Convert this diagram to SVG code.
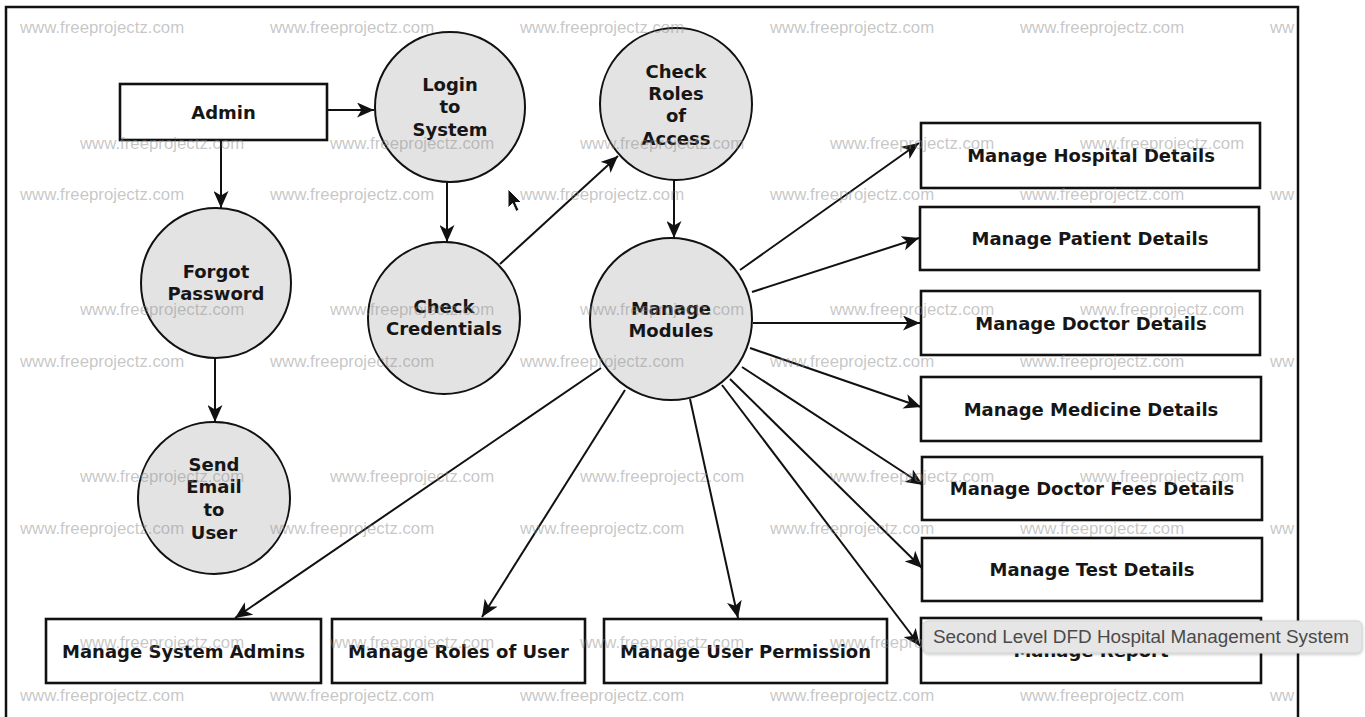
<svg xmlns="http://www.w3.org/2000/svg" width="1365" height="717" viewBox="0 0 1365 717">
  <style>
    .frame { fill: none; stroke: #111; stroke-width: 2.5; }
    .proc { fill: #e3e3e3; stroke: #111; stroke-width: 2; }
    .ent { fill: #fff; stroke: #111; stroke-width: 2.6; }
    .lbl { font-family: "DejaVu Sans", Verdana, sans-serif; font-weight: bold; font-size: 18px; fill: #161616; text-anchor: middle; }
    .flow { fill: none; stroke: #111; stroke-width: 2; marker-end: url(#head); }
    .wm { font-family: "Liberation Sans", Arial, sans-serif; font-size: 16.8px; fill: #888; fill-opacity: 0.48; }
    .tip { font-family: "Liberation Sans", Arial, sans-serif; font-size: 17.5px; fill: #4a4a4a; }
  </style>
  <defs>
    <marker id="head" viewBox="0 0 17 15" refX="17" refY="7.5" markerWidth="17" markerHeight="15" markerUnits="userSpaceOnUse" orient="auto">
      <path d="M0,0 L17,7.5 L0,15 L4.5,7.5 Z" fill="#111"/>
    </marker>
    <filter id="shadow" x="-5%" y="-30%" width="110%" height="170%">
      <feDropShadow dx="0" dy="1" stdDeviation="1.5" flood-color="#000" flood-opacity="0.25"/>
    </filter>
  </defs>

  <rect x="0" y="0" width="1365" height="717" fill="#fff"/>
  <path class="frame" d="M6,717 V7 H1298 V717"/>

  <!-- data flows -->
  <g id="connectors">
    <line class="flow" x1="327" y1="110" x2="374" y2="110"/>
    <line class="flow" x1="221" y1="140" x2="221" y2="208"/>
    <line class="flow" x1="447" y1="182" x2="447" y2="242"/>
    <line class="flow" x1="215" y1="358" x2="215" y2="422"/>
    <line class="flow" x1="500" y1="264" x2="618" y2="156"/>
    <line class="flow" x1="674" y1="180" x2="674" y2="238"/>
    <line class="flow" x1="740" y1="270" x2="919" y2="143"/>
    <line class="flow" x1="752" y1="292" x2="919" y2="238"/>
    <line class="flow" x1="753" y1="323" x2="920" y2="323"/>
    <line class="flow" x1="750" y1="348" x2="921" y2="407"/>
    <line class="flow" x1="742" y1="367" x2="923" y2="485"/>
    <line class="flow" x1="730" y1="379" x2="922" y2="568"/>
    <line class="flow" x1="722" y1="385" x2="920" y2="646"/>
    <line class="flow" x1="690" y1="399" x2="738" y2="618"/>
    <line class="flow" x1="625" y1="390" x2="482" y2="617"/>
    <line class="flow" x1="601" y1="368" x2="235" y2="618"/>
  </g>

  <!-- external entities -->
  <g id="admin">
    <rect class="ent" x="120" y="84" width="207" height="56"/>
    <text class="lbl" x="223.5" y="119">Admin</text>
  </g>
  <g id="hospital-details">
    <rect class="ent" x="921" y="123" width="339" height="65"/>
    <text class="lbl" x="1091" y="162">Manage Hospital Details</text>
  </g>
  <g id="patient-details">
    <rect class="ent" x="920" y="207" width="339" height="63"/>
    <text class="lbl" x="1090" y="245">Manage Patient Details</text>
  </g>
  <g id="doctor-details">
    <rect class="ent" x="921" y="291" width="339" height="64"/>
    <text class="lbl" x="1091" y="330">Manage Doctor Details</text>
  </g>
  <g id="medicine-details">
    <rect class="ent" x="921" y="377" width="340" height="64"/>
    <text class="lbl" x="1091" y="416">Manage Medicine Details</text>
  </g>
  <g id="doctor-fees-details">
    <rect class="ent" x="922" y="457" width="340" height="63"/>
    <text class="lbl" x="1092" y="495">Manage Doctor Fees Details</text>
  </g>
  <g id="test-details">
    <rect class="ent" x="922" y="538" width="340" height="63"/>
    <text class="lbl" x="1092" y="576">Manage Test Details</text>
  </g>
  <g id="report">
    <rect class="ent" x="921" y="618" width="340" height="65"/>
    <text class="lbl" x="1091" y="657">Manage Report</text>
  </g>
  <g id="system-admins">
    <rect class="ent" x="46" y="619" width="275" height="64"/>
    <text class="lbl" x="183.5" y="658">Manage System Admins</text>
  </g>
  <g id="roles-of-user">
    <rect class="ent" x="332" y="619" width="253" height="64"/>
    <text class="lbl" x="458.5" y="658">Manage Roles of User</text>
  </g>
  <g id="user-permission">
    <rect class="ent" x="604" y="619" width="283" height="64"/>
    <text class="lbl" x="745.5" y="658">Manage User Permission</text>
  </g>

  <!-- processes -->
  <g id="login-to-system">
    <circle class="proc" cx="450" cy="107" r="75"/>
    <text class="lbl" x="450" y="91">Login</text>
    <text class="lbl" x="450" y="113">to</text>
    <text class="lbl" x="450" y="135.5">System</text>
  </g>
  <g id="check-roles-of-access">
    <circle class="proc" cx="676" cy="104" r="76"/>
    <text class="lbl" x="676" y="78">Check</text>
    <text class="lbl" x="676" y="100">Roles</text>
    <text class="lbl" x="676" y="122">of</text>
    <text class="lbl" x="676" y="144.5">Access</text>
  </g>
  <g id="forgot-password">
    <circle class="proc" cx="216" cy="283" r="75"/>
    <text class="lbl" x="216" y="278">Forgot</text>
    <text class="lbl" x="216" y="300">Password</text>
  </g>
  <g id="check-credentials">
    <circle class="proc" cx="444" cy="318" r="76"/>
    <text class="lbl" x="444" y="313">Check</text>
    <text class="lbl" x="444" y="335">Credentials</text>
  </g>
  <g id="send-email-to-user">
    <circle class="proc" cx="214" cy="498" r="76"/>
    <text class="lbl" x="214" y="471">Send</text>
    <text class="lbl" x="214" y="493">Email</text>
    <text class="lbl" x="214" y="516">to</text>
    <text class="lbl" x="214" y="539">User</text>
  </g>
  <g id="manage-modules">
    <circle class="proc" cx="671" cy="319" r="81"/>
    <text class="lbl" x="671" y="315">Manage</text>
    <text class="lbl" x="671" y="337">Modules</text>
  </g>

  <!-- site watermark -->
  <g id="watermark" class="wm">
    <text x="20" y="33">www.freeprojectz.com</text>
    <text x="270" y="33">www.freeprojectz.com</text>
    <text x="520" y="33">www.freeprojectz.com</text>
    <text x="770" y="33">www.freeprojectz.com</text>
    <text x="1020" y="33">www.freeprojectz.com</text>
    <text x="1270" y="33">ww</text>
    <text x="80" y="149">www.freeprojectz.com</text>
    <text x="330" y="149">www.freeprojectz.com</text>
    <text x="580" y="149">www.freeprojectz.com</text>
    <text x="830" y="149">www.freeprojectz.com</text>
    <text x="1080" y="149">www.freeprojectz.com</text>
    <text x="20" y="200">www.freeprojectz.com</text>
    <text x="270" y="200">www.freeprojectz.com</text>
    <text x="520" y="200">www.freeprojectz.com</text>
    <text x="770" y="200">www.freeprojectz.com</text>
    <text x="1020" y="200">www.freeprojectz.com</text>
    <text x="1270" y="200">ww</text>
    <text x="80" y="315">www.freeprojectz.com</text>
    <text x="330" y="315">www.freeprojectz.com</text>
    <text x="580" y="315">www.freeprojectz.com</text>
    <text x="830" y="315">www.freeprojectz.com</text>
    <text x="1080" y="315">www.freeprojectz.com</text>
    <text x="20" y="367">www.freeprojectz.com</text>
    <text x="270" y="367">www.freeprojectz.com</text>
    <text x="520" y="367">www.freeprojectz.com</text>
    <text x="770" y="367">www.freeprojectz.com</text>
    <text x="1020" y="367">www.freeprojectz.com</text>
    <text x="1270" y="367">ww</text>
    <text x="80" y="482">www.freeprojectz.com</text>
    <text x="330" y="482">www.freeprojectz.com</text>
    <text x="580" y="482">www.freeprojectz.com</text>
    <text x="830" y="482">www.freeprojectz.com</text>
    <text x="1080" y="482">www.freeprojectz.com</text>
    <text x="20" y="534">www.freeprojectz.com</text>
    <text x="270" y="534">www.freeprojectz.com</text>
    <text x="520" y="534">www.freeprojectz.com</text>
    <text x="770" y="534">www.freeprojectz.com</text>
    <text x="1020" y="534">www.freeprojectz.com</text>
    <text x="1270" y="534">ww</text>
    <text x="80" y="648">www.freeprojectz.com</text>
    <text x="330" y="648">www.freeprojectz.com</text>
    <text x="580" y="648">www.freeprojectz.com</text>
    <text x="830" y="648">www.freeprojectz.com</text>
    <text x="1080" y="648">www.freeprojectz.com</text>
    <text x="20" y="701">www.freeprojectz.com</text>
    <text x="270" y="701">www.freeprojectz.com</text>
    <text x="520" y="701">www.freeprojectz.com</text>
    <text x="770" y="701">www.freeprojectz.com</text>
    <text x="1020" y="701">www.freeprojectz.com</text>
    <text x="1270" y="701">ww</text>
  </g>

  <!-- pointer and hover tooltip -->
  <path d="M508,189 L508,208 L512.5,203.5 L516,211.5 L519,210 L515.5,202.5 L521.5,202.5 Z" fill="#111" stroke="#fff" stroke-width="1"/>
  <g id="tooltip">
    <rect x="923" y="621" width="439" height="32" rx="5" fill="#e6e6e6" stroke="#d2d2d2" stroke-width="1" filter="url(#shadow)"/>
    <text class="tip" x="933" y="643" textLength="416" lengthAdjust="spacingAndGlyphs">Second Level DFD Hospital Management System</text>
  </g>
</svg>
